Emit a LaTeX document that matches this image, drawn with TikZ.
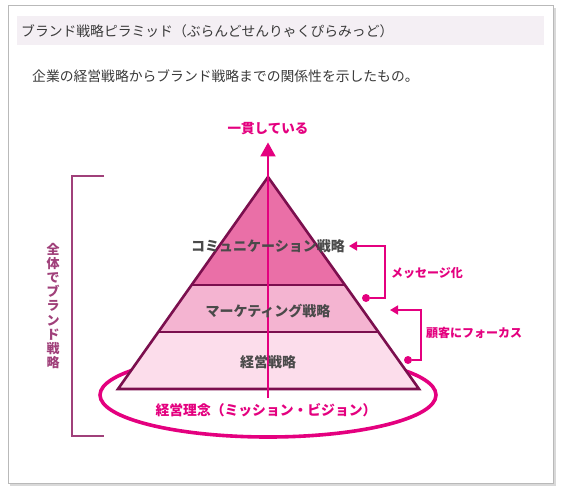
\documentclass[tikz,border=0pt]{standalone}
\usepackage{fontspec}
\setmainfont{Noto Sans CJK JP}
\usetikzlibrary{arrows.meta,calc}
\definecolor{keipink}{HTML}{E4007F}
\definecolor{keiline}{HTML}{7B0F4E}
\definecolor{bandtop}{HTML}{EA6FA7}
\definecolor{bandmid}{HTML}{F4B4D1}
\definecolor{bandlow}{HTML}{FCDDEB}
\definecolor{brackc}{HTML}{A0407A}
\definecolor{txtgray}{HTML}{3A3A3A}
\definecolor{lblgray}{HTML}{4A4A4A}
\definecolor{headband}{HTML}{F4EFF4}
\begin{document}
\begin{tikzpicture}[x=1pt,y=-1pt,
	lbl/.style={text=lblgray,inner sep=0pt,font=\bfseries\fontsize{14}{14}\selectfont},
	pinklbl/.style={text=keipink,inner sep=0pt,font=\bfseries\fontsize{12}{12}\selectfont},
	link/.style={draw=keipink,line width=1.6pt,-{Triangle[width=9pt,length=8pt]}},
	dot/.style={circle,fill=keipink,inner sep=0pt,minimum size=8pt},
	outline/.style={draw=keiline,line width=2.6pt}]
	\useasboundingbox (0,0) rectangle (561,495);
	%frame and header
	\fill[gray!30] (10,8) rectangle (556,486);
	\draw[gray!55,fill=white,line width=0.8pt] (8,5) rectangle (553,483);
	\fill[headband] (17,16) rectangle (544,45);
	\node[anchor=west,inner sep=0pt,text=txtgray,font=\fontsize{13.8}{13.8}\selectfont] (title) at (21,31) {ブランド戦略ピラミッド（ぶらんどせんりゃくぴらみっど）};
	\node[anchor=west,inner sep=0pt,text=txtgray,font=\fontsize{13.8}{13.8}\selectfont] (intro) at (32,76) {企業の経営戦略からブランド戦略までの関係性を示したもの。};
	%pyramid corners
	\coordinate (apex) at (268,177);
	\coordinate (bl) at (118,389);
	\coordinate (br) at (419,389);
	\coordinate (l1) at ($(apex)!0.509!(bl)$);
	\coordinate (r1) at ($(apex)!0.509!(br)$);
	\coordinate (l2) at ($(apex)!0.731!(bl)$);
	\coordinate (r2) at ($(apex)!0.731!(br)$);
	%ellipse under the pyramid
	\draw[keipink,line width=3.6pt] (268,395) ellipse [x radius=168,y radius=42];
	\fill[bandlow] (l2)--(r2)--(br)--(bl)--cycle;
	\fill[bandmid] (l1)--(r1)--(r2)--(l2)--cycle;
	\fill[bandtop] (apex)--(r1)--(l1)--cycle;
	\draw[outline] (l1)--(r1) (l2)--(r2);
	\draw[outline,line join=miter] (apex)--(br)--(bl)--cycle;
	%axis
	\node[pinklbl,font=\bfseries\fontsize{13.5}{13.5}\selectfont] (consistent) at (268,129) {一貫している};
	\coordinate (axisfoot) at (268,398);
	\draw[keipink,line width=2pt,-{Triangle[width=15pt,length=14pt]},shorten >=7pt] (axisfoot)--(consistent.south);
	%layer labels
	\node[lbl] (comm) at (268,246) {コミュニケーション戦略};
	\node[lbl] (mkt) at (268,311) {マーケティング戦略};
	\node[lbl] (mgmt) at (268,362) {経営戦略};
	\node[pinklbl,font=\bfseries\fontsize{13.8}{13.8}\selectfont] (rinen) at (266,410) {経営理念（ミッション・ビジョン）};
	%right connectors
	\node[dot] (d1) at (366,298) {};
	\coordinate (k1) at (385,298);
	\coordinate (t1) at (349,246);
	\draw[link] (d1)--(k1)|-(t1);
	\node[pinklbl,anchor=west] (msg) at (391,273) {メッセージ化};
	\node[dot] (d2) at (408,360) {};
	\coordinate (k2) at (421,360);
	\coordinate (t2) at (390,310);
	\draw[link] (d2)--(k2)|-(t2);
	\node[pinklbl,anchor=west] (focus) at (426,333) {顧客にフォーカス};
	%left bracket
	\coordinate (brtop) at (104,176);
	\coordinate (brbot) at (104,436);
	\draw[brackc,line width=1.6pt] (brtop)-|(72,436)--(brbot);
	\node[align=center,text=brackc,inner sep=0pt,font=\bfseries\fontsize{13}{14.2}\selectfont] (whole) at (53,306) {全\\体\\で\\ブ\\ラ\\ン\\ド\\戦\\略};
\end{tikzpicture}
\end{document}
